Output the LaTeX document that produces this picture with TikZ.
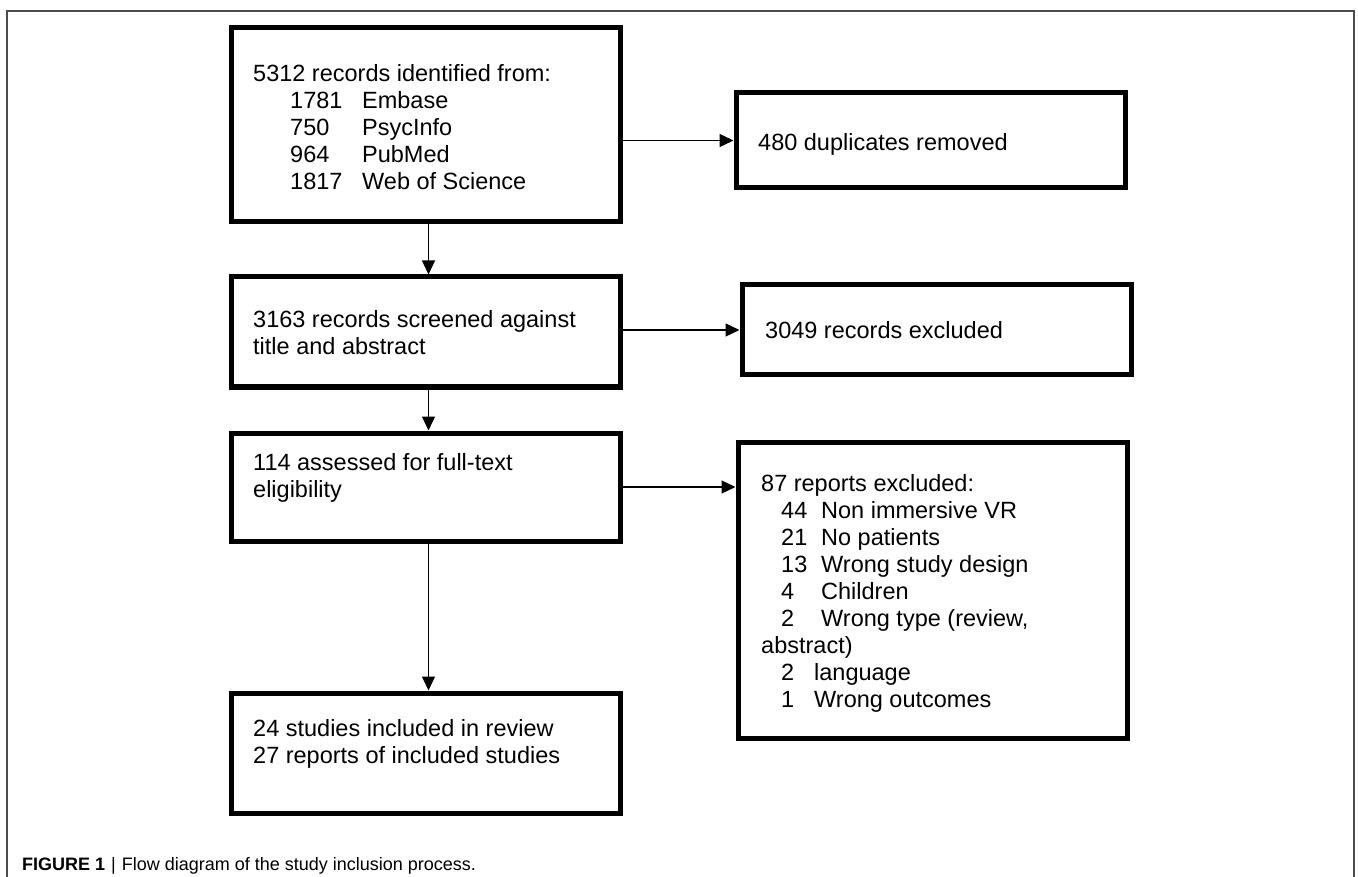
\documentclass[tikz,border=0pt]{standalone}
\usepackage{fontspec}
\setmainfont{Liberation Sans}
\usetikzlibrary{arrows.meta}
\newcommand{\fs}{\rule{0pt}{18.9pt}}
\begin{document}
\begin{tikzpicture}[x=1pt,y=-1pt,
  box/.style={draw=black, line width=5pt, rectangle, inner sep=0pt},
  txt/.style={anchor=north west, inner sep=0pt, align=left, font=\fontsize{23.5}{27}\selectfont},
  arr/.style={line width=1.3pt, -{Triangle[length=14pt,width=13pt]}},
]
\useasboundingbox (0,0) rectangle (1358,877);
\fill[white] (0,0) rectangle (1358,877);
\draw[line width=1.5pt, draw=black!70] (7,877) -- (7,11) -- (1354,11) -- (1354,877);

% boxes
\node[box, minimum width=389pt, minimum height=194pt] (b1) at (425.5,125) {};
\node[box, minimum width=389pt, minimum height=95pt]  (b2) at (930.5,140.5) {};
\node[box, minimum width=389pt, minimum height=110pt] (b3) at (425.5,332) {};
\node[box, minimum width=389pt, minimum height=90pt]  (b4) at (936.5,330) {};
\node[box, minimum width=389pt, minimum height=108pt] (b5) at (425.5,487) {};
\node[box, minimum width=389pt, minimum height=296pt] (b6) at (932.5,590) {};
\node[box, minimum width=389pt, minimum height=120pt] (b7) at (425.5,753) {};

% texts
\node[txt] (t1) at (253,62.1) {\fs 5312 records identified from:\\
\hspace*{37pt}\makebox[72pt][l]{1781}Embase\\
\hspace*{37pt}\makebox[72pt][l]{750}PsycInfo\\
\hspace*{37pt}\makebox[72pt][l]{964}PubMed\\
\hspace*{37pt}\makebox[72pt][l]{1817}Web of Science};
\node[txt] (t2) at (758,131.1) {\fs 480 duplicates removed};
\node[txt] (t3) at (253,308.1) {\fs 3163 records screened against\\title and abstract};
\node[txt] (t4) at (765,319.1) {\fs 3049 records excluded};
\node[txt] (t5) at (253,451.1) {\fs 114 assessed for full-text\\eligibility};
\node[txt] (t6) at (761,472.1) {\fs 87 reports excluded:\\
\hspace*{20pt}\makebox[40pt][l]{44}Non immersive VR\\
\hspace*{20pt}\makebox[40pt][l]{21}No patients\\
\hspace*{20pt}\makebox[40pt][l]{13}Wrong study design\\
\hspace*{20pt}\makebox[40pt][l]{4}Children\\
\hspace*{20pt}\makebox[40pt][l]{2}Wrong type (review,\\
abstract)\\
\hspace*{20pt}\makebox[33pt][l]{2}language\\
\hspace*{20pt}\makebox[33pt][l]{1}Wrong outcomes};
\node[txt] (t7) at (253,717.1) {\fs 24 studies included in review\\27 reports of included studies};

% connectors
\draw[arr] (b1.east |- b2.west) -- (b2.west);
\draw[arr] ([xshift=3pt]b1.south) -- ([xshift=3pt]b3.north);
\draw[arr] (b3.east |- b4.west) -- (b4.west);
\draw[arr] ([xshift=3pt]b3.south) -- ([xshift=3pt]b5.north);
\draw[arr] (b5.east) -- (b5.east -| b6.west);
\draw[arr] ([xshift=3pt]b5.south) -- ([xshift=3pt]b7.north);

% caption
\node[anchor=base west, inner sep=0pt, font=\fontsize{18}{21}\selectfont] (cap) at (22,870)
  {\textbf{FIGURE 1}\hspace{6pt}|\hspace{6pt}Flow diagram of the study inclusion process.};
\end{tikzpicture}
\end{document}
